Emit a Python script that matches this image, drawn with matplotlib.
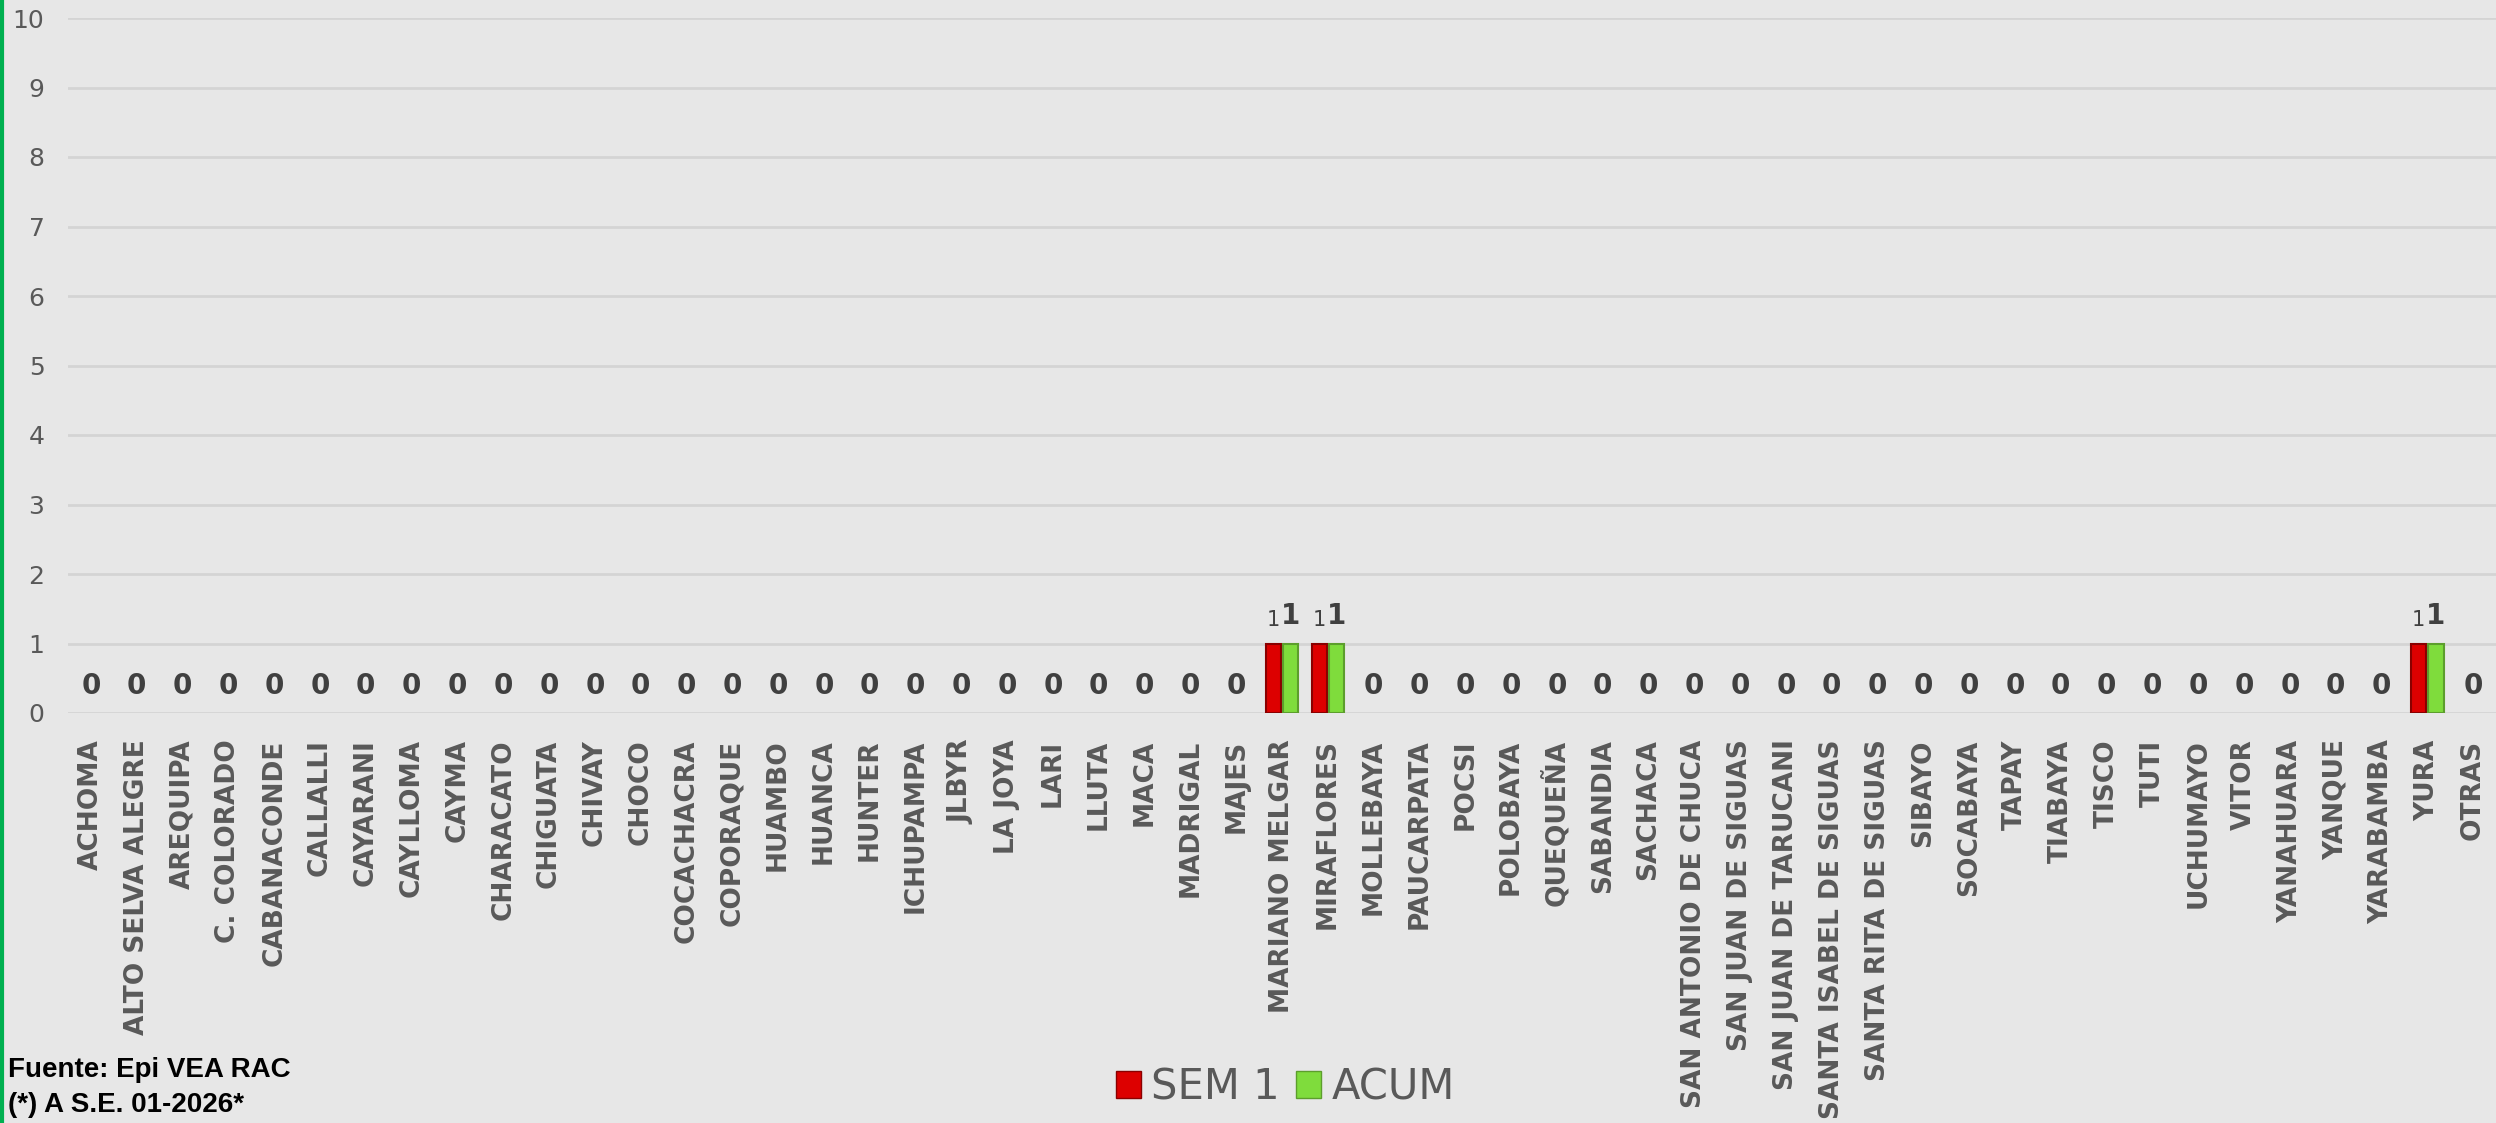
import matplotlib
matplotlib.use("Agg")
import matplotlib.pyplot as plt
from matplotlib.patches import Patch
import numpy as np

# distritos
categorias = ["ACHOMA", "ALTO SELVA ALEGRE", "AREQUIPA", "C. COLORADO", "CABANACONDE",
              "CALLALLI", "CAYARANI", "CAYLLOMA", "CAYMA", "CHARACATO", "CHIGUATA",
              "CHIVAY", "CHOCO", "COCACHACRA", "COPORAQUE", "HUAMBO", "HUANCA", "HUNTER",
              "ICHUPAMPA", "JLBYR", "LA JOYA", "LARI", "LLUTA", "MACA", "MADRIGAL", "MAJES",
              "MARIANO MELGAR", "MIRAFLORES", "MOLLEBAYA", "PAUCARPATA", "POCSI", "POLOBAYA",
              "QUEQUEÑA", "SABANDIA", "SACHACA", "SAN ANTONIO DE CHUCA", "SAN JUAN DE SIGUAS",
              "SAN JUAN DE TARUCANI", "SANTA ISABEL DE SIGUAS", "SANTA RITA DE SIGUAS",
              "SIBAYO", "SOCABAYA", "TAPAY", "TIABAYA", "TISCO", "TUTI", "UCHUMAYO", "VITOR",
              "YANAHUARA", "YANQUE", "YARABAMBA", "YURA", "OTRAS"]

sem1 = [0, 0, 0, 0, 0, 0, 0, 0, 0, 0,
        0, 0, 0, 0, 0, 0, 0, 0, 0, 0,
        0, 0, 0, 0, 0, 0, 1, 1, 0, 0,
        0, 0, 0, 0, 0, 0, 0, 0, 0, 0,
        0, 0, 0, 0, 0, 0, 0, 0, 0, 0,
        0, 1, 0]
acum = [0, 0, 0, 0, 0, 0, 0, 0, 0, 0,
        0, 0, 0, 0, 0, 0, 0, 0, 0, 0,
        0, 0, 0, 0, 0, 0, 1, 1, 0, 0,
        0, 0, 0, 0, 0, 0, 0, 0, 0, 0,
        0, 0, 0, 0, 0, 0, 0, 0, 0, 0,
        0, 1, 0]

yticks = [0, 1, 2, 3, 4, 5, 6, 7, 8, 9, 10]

bg = "#e7e7e7"
gris = "#595959"

fig = plt.figure(figsize=(24.96, 11.23), dpi=100, facecolor=bg)
ax = fig.add_axes([68 / 2496, 1 - 713 / 1123, 1 - 68 / 2496, (713 - 18) / 1123])
ax.set_facecolor(bg)

x = np.arange(len(categorias))
w = 0.33
off = 0.19
# sin borde para las barras en cero
lw_sem = [1.5 if v > 0 else 0 for v in sem1]
lw_acum = [1.5 if v > 0 else 0 for v in acum]
ax.bar(x - off, sem1, w, color="#dd0000", edgecolor="#8a0000", linewidth=lw_sem, zorder=3)
ax.bar(x + off, acum, w, color="#7fdc3c", edgecolor="#5c9e2c", linewidth=lw_acum, zorder=3)

for i in range(len(categorias)):
    if sem1[i] == 0 and acum[i] == 0:
        ax.text(x[i], 0.39, "0", ha="center", va="center", fontsize=20,
                fontweight="bold", color="#404040")
    else:
        ax.text(x[i] - off, acum[i] + 0.2, str(sem1[i]), ha="center", va="bottom",
                fontsize=15, color="#404040")
        ax.text(x[i] + off, acum[i] + 0.2, str(acum[i]), ha="center", va="bottom",
                fontsize=20, fontweight="bold", color="#404040")

ax.set_xlim(-0.5, len(categorias) - 0.5)
ax.set_ylim(0, 10)
ax.set_yticks(yticks)
ax.set_yticklabels([str(t) for t in yticks], fontsize=18, color=gris)
ax.set_xticks(x)
ax.set_xticklabels(categorias, rotation=90, fontsize=19, fontweight="bold", color=gris)
ax.tick_params(axis="both", length=0)
ax.tick_params(axis="y", pad=17)
ax.tick_params(axis="x", pad=19)
ax.grid(axis="y", color="#d4d4d4", linewidth=2, zorder=0)
for s in ax.spines.values():
    s.set_visible(False)

handles = [Patch(facecolor="#dd0000", edgecolor="#8a0000", label="SEM 1"),
           Patch(facecolor="#7fdc3c", edgecolor="#5c9e2c", label="ACUM")]
leg = fig.legend(handles=handles, loc="center", bbox_to_anchor=(0.515, 1 - 1087 / 1123),
                 ncol=2, frameon=False, fontsize=30, handlelength=0.6, handleheight=0.6,
                 handletextpad=0.25, columnspacing=0.4)
for t in leg.get_texts():
    t.set_color(gris)

fig.text(8 / 2496, 1 - 1077 / 1123, "Fuente: Epi VEA RAC", fontsize=20, fontweight="bold",
         family="Liberation Sans", color="black", va="baseline")
fig.text(8 / 2496, 1 - 1112 / 1123, "(*) A S.E. 01-2026*", fontsize=20, fontweight="bold",
         family="Liberation Sans", color="black", va="baseline")

# linea verde al borde
fig.add_artist(plt.Line2D([0.0008, 0.0008], [0, 1], color="#00b050", linewidth=3,
                          transform=fig.transFigure))

fig.savefig("out.png", dpi=100, facecolor=bg)
